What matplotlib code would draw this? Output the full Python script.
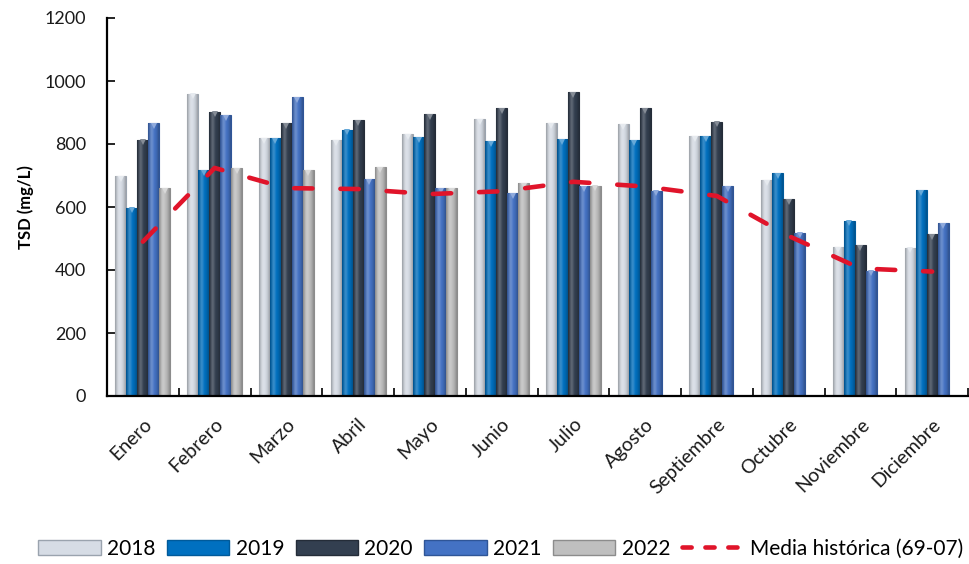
import matplotlib
matplotlib.use("Agg")
import matplotlib.pyplot as plt
import numpy as np
from matplotlib.colors import to_rgb
from matplotlib.patches import Patch
from matplotlib.lines import Line2D

plt.rcParams["font.family"] = ["Lato", "DejaVu Sans"]

months = ["Enero", "Febrero", "Marzo", "Abril", "Mayo", "Junio", "Julio",
          "Agosto", "Septiembre", "Octubre", "Noviembre", "Diciembre"]
years = ["2018", "2019", "2020", "2021", "2022"]

tsd_2018 = [699, 960, 818, 812, 832, 879, 866, 862, 824, 686, 474, 471]
tsd_2019 = [598, 716, 818, 846, 822, 810, 815, 813, 825, 708, 557, 655]
tsd_2020 = [814, 903, 866, 876, 894, 913, 965, 915, 871, 626, 479, 513]
tsd_2021 = [867, 893, 949, 688, 661, 643, 667, 652, 667, 519, 398, 549]
tsd_2022 = [659, 723, 716, 728, 661, 677, 668, np.nan, np.nan, np.nan, np.nan, np.nan]
media_historica = [490, 724, 660, 657, 641, 650, 680, 665, 635, 508, 405, 395]

series = [tsd_2018, tsd_2019, tsd_2020, tsd_2021, tsd_2022]
face_colors = ["#D6DCE5", "#0070C0", "#333F50", "#4472C4", "#BFBFBF"]
edge_colors = ["#9AA3AE", "#005A9A", "#242C38", "#2F5597", "#8C8C8C"]
red = "#E0142A"


def bevel(color, n=24):
    """Horizontal gradient: darker sides, lighter centre, like a rounded bar."""
    base = np.array(to_rgb(color))
    t = np.linspace(-1, 1, n)
    shade = 1 - 0.28 * t ** 2
    light = np.clip(0.25 * (1 - np.abs(t + 0.35) * 1.8), 0, None)
    rgb = base[None, :] * shade[:, None]
    rgb = rgb + (1 - rgb) * light[:, None]
    return np.clip(rgb, 0, 1)[None, :, :]


fig = plt.figure(figsize=(9.69, 5.64), dpi=100)
ax = fig.add_axes([107 / 969, 1 - 396 / 564, 861 / 969, 378 / 564])

x = np.arange(len(months))
width = 0.153
for i, vals in enumerate(series):
    bars = ax.bar(x + (i - 2) * width, vals, width, color=face_colors[i],
                  edgecolor=edge_colors[i], linewidth=0.8, zorder=2)
    grad = bevel(face_colors[i])
    for b in bars:
        h = b.get_height()
        if not np.isfinite(h):
            continue
        x0 = b.get_x()
        im = ax.imshow(grad, extent=[x0, x0 + width, 0, h], aspect="auto",
                       zorder=2.1, interpolation="bicubic")
        im.set_clip_path(b)
    tops = np.array(vals, dtype=float)
    light_tri = tuple(np.clip(np.array(to_rgb(face_colors[i])) * 0.6 + 0.4, 0, 1))
    ax.plot(x + (i - 2) * width, tops - 9, linestyle="none", marker="v",
            markersize=5, color=light_tri, markeredgewidth=0, zorder=2.2)

ax.plot(x, media_historica, color=red, linewidth=3.3,
        linestyle=(0, (4.0, 6.1)), dash_capstyle="round", zorder=3)

ax.set_xlim(-0.5, 11.5)
ax.set_ylim(0, 1200)
ax.set_yticks(range(0, 1201, 200))
ax.set_xticks(x)
ax.set_xticks(np.arange(-0.5, 12, 1), minor=True)
ax.set_xticklabels(months, rotation=45, ha="right", rotation_mode="anchor",
                   fontsize=14, color="#1a1a1a")
ax.tick_params(axis="x", which="major", length=0, pad=14)
ax.tick_params(axis="x", which="minor", direction="in", length=6, width=1.2)
ax.tick_params(axis="y", direction="in", length=6, width=1.2,
               labelsize=13, labelcolor="#1a1a1a", pad=15)
ax.set_ylabel("TSD (mg/L)", fontsize=12, fontweight="bold", labelpad=8)

for side in ["top", "right"]:
    ax.spines[side].set_visible(False)
for side in ["left", "bottom"]:
    ax.spines[side].set_linewidth(1.6)
    ax.spines[side].set_color("black")

handles = [Patch(facecolor=face_colors[i], edgecolor=edge_colors[i], label=years[i])
           for i in range(5)]
handles.append(Line2D([], [], color=red, linewidth=3.3,
                      linestyle=(0, (2.0, 3.0)), dash_capstyle="round",
                      label="Media histórica (69-07)"))
fig.legend(handles=handles, loc="center", bbox_to_anchor=(0.517, 0.027),
           ncol=6, frameon=False, fontsize=15, handlelength=3.0,
           handleheight=0.7, columnspacing=0.55, handletextpad=0.3)

fig.savefig("out.png", dpi=100)
